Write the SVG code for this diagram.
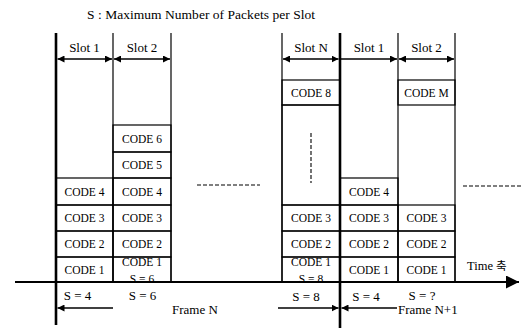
<svg xmlns="http://www.w3.org/2000/svg" width="521" height="329" viewBox="0 0 521 329" font-family="'Liberation Serif', 'DejaVu Serif', 'Times New Roman', serif">
<style>
text{font-family:"Liberation Serif","DejaVu Serif","Times New Roman",serif;fill:#000}
.t{font-size:13.5px}
.s{font-size:13px;text-anchor:middle}
.c{font-size:11.5px;text-anchor:middle}
.b{font-size:13px}
.cell{fill:none;stroke:#000;stroke-width:1.2}
.v{stroke:#000;stroke-width:1.2;fill:none}
.thick{stroke:#000;stroke-width:2.6;fill:none}
.dash{stroke:#000;stroke-width:1.1;stroke-dasharray:4 2;fill:none}
.arr{stroke:#000;stroke-width:1.3;fill:none}
</style>
<defs>
<marker id="ah" viewBox="0 0 10 10" refX="10" refY="5" markerWidth="7" markerHeight="7" markerUnits="userSpaceOnUse" orient="auto-start-reverse"><path d="M0,0 L10,5 L0,10 Z" fill="#000"/></marker>
<marker id="big" viewBox="0 0 10 10" refX="10" refY="5" markerWidth="13" markerHeight="13" markerUnits="userSpaceOnUse" orient="auto"><path d="M0,0 L10,5 L0,10 Z" fill="#000"/></marker>
<clipPath id="clipA"><rect x="113" y="257" width="58" height="25"/></clipPath>
<clipPath id="clipB"><rect x="282" y="257" width="58" height="25"/></clipPath>
</defs>

<text class="t" x="87" y="19" textLength="228">S : Maximum Number of Packets per Slot</text>

<g id="frame-lines">
<line class="thick" x1="56" y1="33" x2="56" y2="325"/>
<line class="v" x1="113" y1="33" x2="113" y2="282"/>
<line class="v" x1="171" y1="33" x2="171" y2="282"/>
<line class="v" x1="282" y1="33" x2="282" y2="282"/>
<line class="thick" x1="340" y1="33" x2="340" y2="328"/>
<line class="v" x1="398" y1="33" x2="398" y2="282"/>
<line class="v" x1="455" y1="33" x2="455" y2="282"/>
</g>

<g id="slot-labels">
<text class="s" x="84.5" y="52">Slot 1</text>
<text class="s" x="142" y="52">Slot 2</text>
<text class="s" x="311" y="52">Slot N</text>
<text class="s" x="369" y="52">Slot 1</text>
<text class="s" x="426.5" y="52">Slot 2</text>
</g>

<g id="frameN-slot1">
<rect class="cell" x="56" y="178" width="57" height="27"/><text class="c" x="84.5" y="195.5">CODE 4</text>
<rect class="cell" x="56" y="205" width="57" height="26"/><text class="c" x="84.5" y="222">CODE 3</text>
<rect class="cell" x="56" y="231" width="57" height="26"/><text class="c" x="84.5" y="248">CODE 2</text>
<rect class="cell" x="56" y="257" width="57" height="25"/><text class="c" x="84.5" y="273.5">CODE 1</text>
</g>

<g id="frameN-slot2">
<rect class="cell" x="113" y="125" width="58" height="27"/><text class="c" x="142" y="142.5">CODE 6</text>
<rect class="cell" x="113" y="152" width="58" height="26"/><text class="c" x="142" y="169">CODE 5</text>
<rect class="cell" x="113" y="178" width="58" height="27"/><text class="c" x="142" y="195.5">CODE 4</text>
<rect class="cell" x="113" y="205" width="58" height="26"/><text class="c" x="142" y="222">CODE 3</text>
<rect class="cell" x="113" y="231" width="58" height="26"/><text class="c" x="142" y="248">CODE 2</text>
<rect class="cell" x="113" y="257" width="58" height="25"/>
<g clip-path="url(#clipA)"><text class="c" x="142" y="266">CODE 1</text><text class="c" x="142" y="283">S = 6</text></g>
</g>

<g id="slotN">
<rect class="cell" x="282" y="80" width="58" height="25"/><text class="c" x="311" y="96.5">CODE 8</text>
<rect class="cell" x="282" y="105" width="58" height="100"/>
<line class="dash" x1="311" y1="133" x2="311" y2="183"/>
<rect class="cell" x="282" y="205" width="58" height="26"/><text class="c" x="311" y="222">CODE 3</text>
<rect class="cell" x="282" y="231" width="58" height="26"/><text class="c" x="311" y="248">CODE 2</text>
<rect class="cell" x="282" y="257" width="58" height="25"/>
<g clip-path="url(#clipB)"><text class="c" x="311" y="266">CODE 1</text><text class="c" x="311" y="283">S = 8</text></g>
</g>

<g id="frameN1-slot1">
<rect class="cell" x="340" y="178" width="58" height="27"/><text class="c" x="369" y="195.5">CODE 4</text>
<rect class="cell" x="340" y="205" width="58" height="26"/><text class="c" x="369" y="222">CODE 3</text>
<rect class="cell" x="340" y="231" width="58" height="26"/><text class="c" x="369" y="248">CODE 2</text>
<rect class="cell" x="340" y="257" width="58" height="25"/><text class="c" x="369" y="273.5">CODE 1</text>
</g>

<g id="frameN1-slot2">
<rect class="cell" x="398" y="80" width="57" height="25"/><text class="c" x="426.5" y="96.5">CODE M</text>
<rect class="cell" x="398" y="205" width="57" height="26"/><text class="c" x="426.5" y="222">CODE 3</text>
<rect class="cell" x="398" y="231" width="57" height="26"/><text class="c" x="426.5" y="248">CODE 2</text>
<rect class="cell" x="398" y="257" width="57" height="25"/><text class="c" x="426.5" y="273.5">CODE 1</text>
</g>

<g id="continuation">
<line class="dash" x1="197" y1="185" x2="260" y2="185"/>
<line class="dash" x1="463" y1="186" x2="521" y2="186"/>
</g>

<g id="connectors">
<line class="arr" x1="57.5" y1="59" x2="112" y2="59" marker-start="url(#ah)" marker-end="url(#ah)"/>
<line class="arr" x1="114" y1="59" x2="170" y2="59" marker-start="url(#ah)" marker-end="url(#ah)"/>
<line class="arr" x1="283" y1="59" x2="338.5" y2="59" marker-start="url(#ah)" marker-end="url(#ah)"/>
<line class="arr" x1="341" y1="59" x2="397" y2="59" marker-end="url(#ah)"/>
<line class="arr" x1="399" y1="59" x2="454" y2="59" marker-start="url(#ah)" marker-end="url(#ah)"/>
<line stroke="#000" stroke-width="2.2" x1="15" y1="282" x2="519" y2="282" marker-end="url(#big)"/>
<line class="arr" x1="113" y1="308" x2="57.5" y2="308" marker-end="url(#ah)"/>
<line class="arr" x1="278" y1="308" x2="338.5" y2="308" marker-end="url(#ah)"/>
<line class="arr" x1="397" y1="308" x2="341.5" y2="308" marker-end="url(#ah)"/>
</g>

<g id="bottom-labels">
<text class="s" x="77.5" y="300">S = 4</text>
<text class="s" x="142.5" y="300">S = 6</text>
<text class="s" x="306" y="301">S = 8</text>
<text class="s" x="366" y="301">S = 4</text>
<text class="s" x="422" y="300">S = ?</text>
<text class="b" x="172" y="314">Frame N</text>
<text class="b" x="398" y="314">Frame N+1</text>
<text font-size="12.5" x="467" y="270">Time <tspan font-family="'Noto Sans CJK KR', sans-serif" font-size="11.5">축</tspan></text>
</g>
</svg>
